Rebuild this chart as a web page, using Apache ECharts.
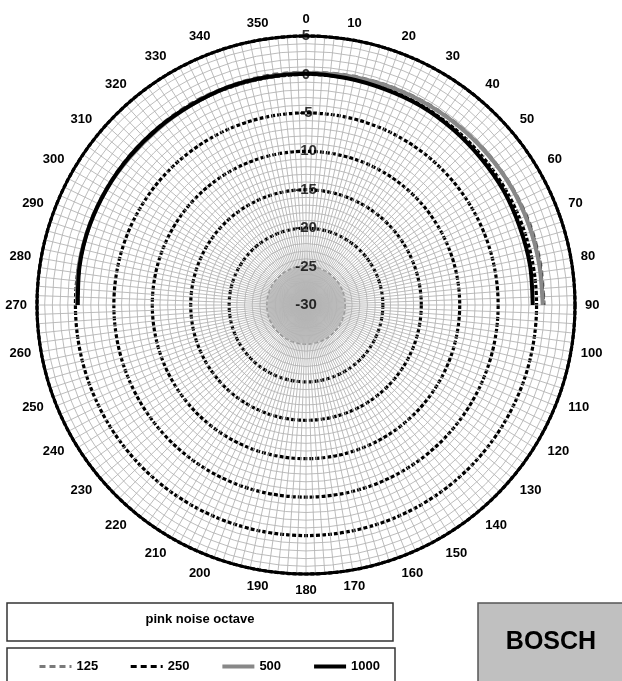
<!DOCTYPE html>
<html>
<head>
<meta charset="utf-8">
<script src="https://cdn.jsdelivr.net/npm/echarts@6/dist/echarts.min.js"></script>
<style>
html,body{margin:0;padding:0;background:#fff;}
#chart{width:622px;height:681px;}
</style>
</head>
<body>
<div id="chart"></div>
<script>
// angles (degrees, 0 = front/top, clockwise)
const angles = [270, 280, 290, 300, 310, 320, 330, 340, 350, 0, 10, 20, 30, 40, 50, 60, 70, 80, 90];
// level in dB per octave band
const s125  = [-0.2, 0.0, 0.1, 0.1, 0.1, 0.1, 0.2, 0.2, 0.3, 0.3, 0.4, 0.5, 0.6, 0.7, 0.8, 0.9, 1.0, 1.0, 1.0];
const s250  = [-0.3, -0.1, 0.0, 0.0, 0.0, 0.0, 0.1, 0.1, 0.2, 0.2, 0.3, 0.4, 0.5, 0.6, 0.7, 0.8, 0.9, 0.9, 0.9];
const s500  = [-0.2, 0.0, 0.0, 0.0, -0.1, -0.1, 0.0, 0.1, 0.1, 0.2, 0.3, 0.4, 0.5, 0.6, 0.7, 0.8, 0.8, 0.8, 0.8];
const s1000 = [-0.3, -0.1, 0.0, 0.0, 0.0, 0.0, 0.0, 0.1, 0.1, 0.1, 0.0, -0.1, -0.1, -0.2, -0.3, -0.3, -0.4, -0.4, -0.5];
const radiusTicks = [5, 0, -5, -10, -15, -20, -25, -30];
const legendNames = ['125', '250', '500', '1000'];

const chart = echarts.init(document.getElementById('chart'));
const font = 'Liberation Sans';
function pts(vals){ return vals.map((v, i) => [v, angles[i]]); }

chart.setOption({
  animation: false,
  backgroundColor: '#fff',
  polar: { center: [306, 305], radius: 269 },
  angleAxis: {
    type: 'value', min: 0, max: 360, interval: 10, startAngle: 90, clockwise: true,
    axisLine: { show: true, lineStyle: { color: '#000', width: 3 } },
    axisTick: { show: false },
    minorTick: { show: false, splitNumber: 5 },
    axisLabel: {
      margin: 10, color: '#000', fontFamily: font, fontWeight: 'bold', fontSize: 13,
      formatter: v => (v === 360 ? '' : String(v))
    },
    splitLine: { show: true, lineStyle: { color: '#b4b4b4', width: 0.9 } },
    minorSplitLine: { show: true, lineStyle: { color: '#b4b4b4', width: 0.9 } },
    z: 3
  },
  radiusAxis: {
    type: 'value', min: -30, max: 5, interval: 5,
    axisLine: { show: false }, axisTick: { show: false }, axisLabel: { show: false },
    minorTick: { show: false, splitNumber: 5 },
    splitLine: { show: true, lineStyle: {
      color: ['#000', '#808080', '#000', '#000', '#000', '#000', '#000', '#000'],
      width: 3.2, type: [4, 2] } },
    minorSplitLine: { show: true, lineStyle: { color: '#b4b4b4', width: 0.9 } },
    splitArea: { show: true, areaStyle: { color: ['#c8c8c8', 'rgba(0,0,0,0)', 'rgba(0,0,0,0)', 'rgba(0,0,0,0)', 'rgba(0,0,0,0)', 'rgba(0,0,0,0)', 'rgba(0,0,0,0)'] } },
    z: 2
  },
  legend: {
    data: legendNames, left: 33, top: 655, itemWidth: 32, itemHeight: 12, itemGap: 31,
    itemStyle: { opacity: 0 },
    lineStyle: { width: 'inherit' },
    textStyle: { fontFamily: font, fontWeight: 'bold', fontSize: 13, color: '#000' }
  },
  series: [
    { name: '125', type: 'line', coordinateSystem: 'polar', data: pts(s125), symbol: 'none', smooth: 0.3,
      lineStyle: { color: '#7a7a7a', width: 3, type: [6, 4] }, itemStyle: { color: '#7a7a7a' }, z: 5 },
    { name: '250', type: 'line', coordinateSystem: 'polar', data: pts(s250), symbol: 'none', smooth: 0.3,
      lineStyle: { color: '#000', width: 3, type: [6, 4] }, itemStyle: { color: '#000' }, z: 5 },
    { name: '500', type: 'line', coordinateSystem: 'polar', data: pts(s500), symbol: 'none', smooth: 0.3,
      lineStyle: { color: '#888', width: 4 }, itemStyle: { color: '#888' }, z: 6 },
    { name: '1000', type: 'line', coordinateSystem: 'polar', data: pts(s1000), symbol: 'none', smooth: 0.3,
      lineStyle: { color: '#000', width: 4 }, itemStyle: { color: '#000' }, z: 7 },
    { name: 'rlabels', type: 'scatter', coordinateSystem: 'polar', symbolSize: 0, silent: true, z: 10,
      data: radiusTicks.map(r => [r, 0]),
      label: { show: true, position: 'inside', formatter: p => String(p.value[0]),
        color: '#000', fontFamily: font, fontWeight: 'bold', fontSize: 15 } }
  ],
  graphic: [
    { type: 'rect', shape: { x: 7, y: 603, width: 386, height: 38 }, style: { fill: '#fff', stroke: '#333', lineWidth: 1.5 }, z: -1 },
    { type: 'text', x: 200, y: 619, style: { text: 'pink noise octave', font: 'bold 13px Liberation Sans', fill: '#000', textAlign: 'center', textVerticalAlign: 'middle' } },
    { type: 'rect', shape: { x: 7, y: 648, width: 388, height: 45 }, style: { fill: '#fff', stroke: '#333', lineWidth: 1.5 }, z: -1 },
    { type: 'rect', shape: { x: 478, y: 603, width: 150, height: 90 }, style: { fill: '#c0c0c0', stroke: '#555', lineWidth: 1.5 }, z: -1 },
    { type: 'text', x: 551, y: 642, style: { text: 'BOSCH', font: 'bold 25px Liberation Sans', fill: '#000', textAlign: 'center', textVerticalAlign: 'middle' } }
  ]
});
</script>
</body>
</html>
